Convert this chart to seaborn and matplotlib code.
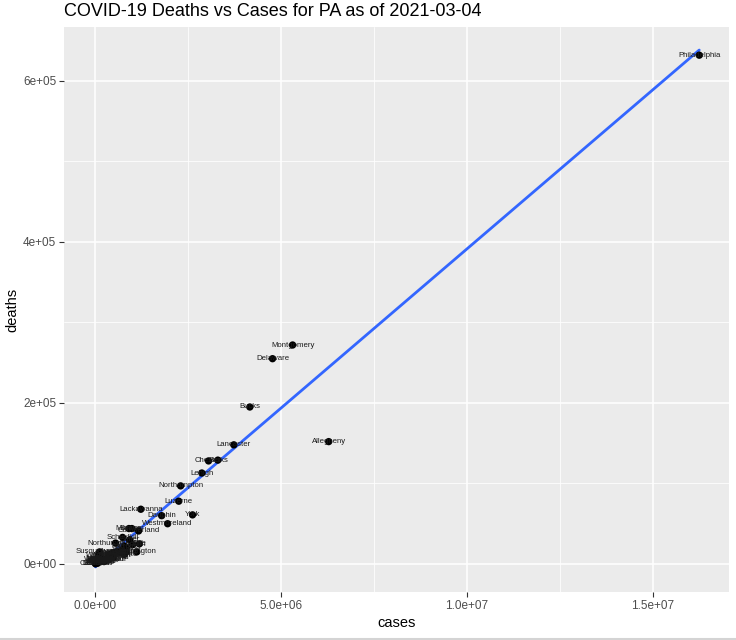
import numpy as np
import pandas as pd
import matplotlib
matplotlib.use("Agg")
import matplotlib.pyplot as plt
import seaborn as sns
from matplotlib.lines import Line2D

# ---- data ----
counties = [
    "Philadelphia", "Allegheny", "Montgomery", "Delaware", "Bucks", "Lancaster",
    "Berks", "Chester", "Lehigh", "York", "Northampton", "Luzerne", "Westmoreland",
    "Dauphin", "Lackawanna", "Cumberland", "Monroe", "Beaver", "Schuylkill",
    "Northumberland", "Franklin", "Washington", "Erie", "Butler", "Susquehanna",
    "Wayne", "Lebanon",
    "Mercer", "Mifflin", "Centre", "Adams", "Fayette", "Cambria", "Blair",
    "Lycoming", "Carbon", "Lawrence", "Pike", "Crawford", "Somerset", "Indiana",
    "Armstrong", "Columbia", "Bradford", "Clearfield", "Venango", "Greene",
    "Bedford", "Huntingdon", "Union", "Snyder", "Perry", "Jefferson", "Tioga",
    "Clinton", "Warren", "Wyoming", "McKean", "Elk", "Clarion", "Juniata",
    "Montour", "Fulton", "Potter", "Sullivan", "Forest", "Cameron",
]
cases = [
    16.25e6, 6.29e6, 5.32e6, 4.78e6, 4.17e6, 3.74e6,
    3.31e6, 3.06e6, 2.88e6, 2.63e6, 2.31e6, 2.26e6, 1.96e6,
    1.80e6, 1.24e6, 1.18e6, 0.92e6, 1.00e6, 0.75e6,
    0.56e6, 1.02e6, 1.13e6, 1.20e6, 0.94e6, 0.13e6,
    0.10e6, 0.08e6,
    0.80e6, 0.40e6, 0.85e6, 0.70e6, 0.80e6, 0.85e6, 0.75e6,
    0.60e6, 0.50e6, 0.50e6, 0.45e6, 0.50e6, 0.52e6, 0.48e6,
    0.40e6, 0.42e6, 0.30e6, 0.36e6, 0.25e6, 0.25e6,
    0.33e6, 0.32e6, 0.30e6, 0.22e6, 0.22e6, 0.21e6, 0.19e6,
    0.17e6, 0.16e6, 0.14e6, 0.17e6, 0.13e6, 0.17e6, 0.10e6,
    0.13e6, 0.05e6, 0.05e6, 0.03e6, 0.03e6, 0.02e6,
]
deaths = [
    632e3, 152e3, 272e3, 255e3, 195e3, 148e3,
    129e3, 128e3, 113e3, 61e3, 97e3, 78e3, 50e3,
    60e3, 68e3, 41e3, 44e3, 44e3, 33e3,
    26e3, 24e3, 15e3, 25e3, 30e3, 15e3,
    11e3, 1e3,
    22e3, 12e3, 15e3, 14e3, 12e3, 20e3, 18e3,
    15e3, 13e3, 14e3, 11e3, 8e3, 10e3, 11e3,
    10e3, 12e3, 5e3, 5e3, 4e3, 3e3,
    7e3, 6e3, 6e3, 5e3, 4e3, 5e3, 4e3,
    4e3, 5e3, 5e3, 3e3, 3e3, 4e3, 3e3,
    7e3, 1.5e3, 1.2e3, 0.8e3, 0.6e3, 0.3e3,
]

x_ticks = [0, 5e6, 1e7, 1.5e7]
x_tick_labels = ["0.0e+00", "5.0e+06", "1.0e+07", "1.5e+07"]
x_minor = [2.5e6, 7.5e6, 1.25e7]
y_ticks = [0, 2e5, 4e5, 6e5]
y_tick_labels = ["0e+00", "2e+05", "4e+05", "6e+05"]
y_minor = [1e5, 3e5, 5e5]

title = "COVID-19 Deaths vs Cases for PA as of 2021-03-04"

df = pd.DataFrame({"county": counties, "cases": cases, "deaths": deaths})

# ---- style ----
sns.set_style("darkgrid", {"axes.facecolor": "#EBEBEB", "grid.color": "white"})
plt.rcParams["font.family"] = ["Liberation Sans", "DejaVu Sans"]

fig = plt.figure(figsize=(7.36, 6.40), dpi=100)
fig.patch.set_facecolor("white")
ax = fig.add_axes([64 / 736, 1 - 592 / 640, (729 - 64) / 736, (592 - 27) / 640])

sns.regplot(data=df, x="cases", y="deaths", ci=None, scatter=False, ax=ax,
            line_kws={"color": "#3366FF", "lw": 2.0, "zorder": 3})
sns.scatterplot(data=df, x="cases", y="deaths", ax=ax, color="black",
                s=28, edgecolor="none", zorder=4, legend=False)
for _, r in df.iterrows():
    ax.text(r["cases"], r["deaths"], r["county"], fontsize=5.6, color="#1A1A1A",
            ha="center", va="center", zorder=5)

ax.set_xlim(-8.25e5, 1.705e7)
ax.set_ylim(-3.48e4, 6.67e5)

ax.set_xticks(x_ticks)
ax.set_xticklabels(x_tick_labels)
ax.set_xticks(x_minor, minor=True)
ax.set_yticks(y_ticks)
ax.set_yticklabels(y_tick_labels)
ax.set_yticks(y_minor, minor=True)

ax.grid(which="major", color="white", lw=1.1)
ax.grid(which="minor", color="white", lw=0.55)
ax.set_axisbelow(True)
for s in ax.spines.values():
    s.set_visible(False)

ax.tick_params(axis="both", which="major", length=3.5, width=0.8, color="#333333",
               labelsize=8.5, labelcolor="#4D4D4D", pad=2, direction="out",
               bottom=True, left=True)
ax.tick_params(axis="both", which="minor", length=0, bottom=False, left=False)

ax.set_xlabel("cases", fontsize=10.5, color="black", labelpad=3)
ax.set_ylabel("deaths", fontsize=10.5, color="black", labelpad=3)

fig.text(64 / 736, 1 - 12 / 640, title, fontsize=13.0, color="black",
         ha="left", va="center")

fig.add_artist(Line2D([0, 1], [1 - 638.5 / 640, 1 - 638.5 / 640],
                      transform=fig.transFigure, color="#D4D4D4", lw=1.5))

fig.savefig("out.png", dpi=100, facecolor="white")
